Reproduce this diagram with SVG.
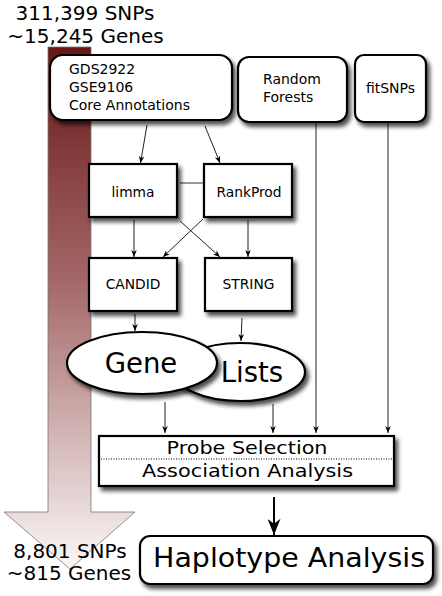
<svg xmlns="http://www.w3.org/2000/svg" width="442" height="596" viewBox="0 0 442 596">
<style>
text{font-family:"DejaVu Sans","Liberation Sans",sans-serif;fill:#000}
.box{fill:#fff;stroke:#000;stroke-width:2.2;filter:url(#sh)}
.conn{stroke:#222;stroke-width:1;fill:none;marker-end:url(#ah)}
.plain{stroke:#333;stroke-width:1;fill:none}
.t14{font-size:14px}
.t13{font-size:13.8px}
.big{font-size:20px}
</style>
<defs>
<linearGradient id="ag" x1="0" y1="47" x2="0" y2="569" gradientUnits="userSpaceOnUse">
<stop offset="0" stop-color="#681616"/>
<stop offset="0.45" stop-color="#a46868"/>
<stop offset="1" stop-color="#fbf8f8"/>
</linearGradient>
<filter id="sh" x="-20%" y="-20%" width="150%" height="160%">
<feGaussianBlur in="SourceAlpha" stdDeviation="2"/>
<feOffset dx="3" dy="4" result="b"/>
<feComponentTransfer><feFuncA type="linear" slope="0.7"/></feComponentTransfer>
<feMerge><feMergeNode/><feMergeNode in="SourceGraphic"/></feMerge>
</filter>
<marker id="ah" viewBox="0 0 10 8" refX="10" refY="4" markerWidth="7" markerHeight="6" orient="auto" markerUnits="userSpaceOnUse">
<path d="M0,0 L10,4 L0,8 L3,4 z" fill="#000"/>
</marker>
<marker id="ahb" viewBox="0 0 10 8" refX="10" refY="4" markerWidth="18" markerHeight="13" orient="auto" markerUnits="userSpaceOnUse">
<path d="M0,0 L10,4 L0,8 L3,4 z" fill="#000"/>
</marker>
</defs>

<g id="funnel">
<path d="M48,47 L91,47 L91,512 L135,512 L70,569 L4,512 L48,512 Z" fill="url(#ag)" stroke="#777" stroke-width="0.8"/>
</g>

<g id="connectors">
<line class="conn" x1="147" y1="125" x2="140.5" y2="163"/>
<line class="conn" x1="205" y1="126" x2="220" y2="163"/>
<line class="plain" x1="180" y1="183" x2="204" y2="183"/>
<line class="conn" x1="134" y1="220" x2="134" y2="257"/>
<line class="conn" x1="248" y1="220" x2="248" y2="257"/>
<line class="conn" x1="180" y1="221" x2="220" y2="257"/>
<line class="conn" x1="203" y1="219" x2="163" y2="257"/>
<line class="conn" x1="135" y1="314" x2="135" y2="331"/>
<line class="conn" x1="242" y1="318" x2="241" y2="341"/>
<line class="conn" x1="165" y1="402" x2="165" y2="433"/>
<line class="conn" x1="273" y1="404" x2="273" y2="433"/>
<line class="conn" x1="316" y1="123" x2="316" y2="433"/>
<line class="conn" x1="388" y1="123" x2="388" y2="433"/>
<line x1="274" y1="497" x2="274" y2="535" stroke="#000" stroke-width="2" marker-end="url(#ahb)"/>
</g>

<g id="gds">
<rect class="box" x="50" y="55" width="182" height="65" rx="13" stroke-width="2.6"/>
<text class="t14" x="69" y="74">GDS2922</text>
<text class="t14" x="69" y="92">GSE9106</text>
<text class="t14" x="69" y="110">Core Annotations</text>
</g>
<g id="random-forests">
<rect class="box" x="238" y="57" width="109" height="65" rx="11" stroke-width="2.4"/>
<text class="t14" x="263" y="84">Random</text>
<text class="t14" x="263" y="102">Forests</text>
</g>
<g id="fitsnps">
<rect class="box" x="355" y="55" width="71" height="67" rx="9" stroke-width="2.4"/>
<text class="t14" x="390.5" y="93" text-anchor="middle">fitSNPs</text>
</g>
<g id="limma">
<rect class="box" x="89" y="164" width="88" height="53"/>
<text class="t13" x="133" y="197" text-anchor="middle">limma</text>
</g>
<g id="rankprod">
<rect class="box" x="204" y="164" width="88" height="53"/>
<text class="t13" x="249" y="197" text-anchor="middle">RankProd</text>
</g>
<g id="candid">
<rect class="box" x="89" y="258" width="88" height="53"/>
<text class="t13" x="133" y="289" text-anchor="middle">CANDID</text>
</g>
<g id="string">
<rect class="box" x="205" y="258" width="87" height="53"/>
<text class="t13" x="248.5" y="289" text-anchor="middle">STRING</text>
</g>
<g id="lists">
<ellipse class="box" cx="240" cy="372" rx="65" ry="29" stroke-width="1.4"/>
<text x="252" y="382" font-size="27.5" text-anchor="middle">Lists</text>
</g>
<g id="gene">
<ellipse class="box" cx="142" cy="363" rx="75" ry="31" stroke-width="1.4"/>
<text x="141" y="373" font-size="27.5" text-anchor="middle">Gene</text>
</g>
<g id="probe">
<rect class="box" x="99" y="436" width="295" height="50" rx="0"/>
<line x1="101" y1="459" x2="392" y2="459" stroke="#000" stroke-width="1" stroke-dasharray="1,1.5"/>
<text x="247" y="454" font-size="17" text-anchor="middle" textLength="161" lengthAdjust="spacingAndGlyphs">Probe Selection</text>
<text x="247.5" y="477" font-size="17" text-anchor="middle" textLength="211" lengthAdjust="spacingAndGlyphs">Association Analysis</text>
</g>
<g id="haplotype">
<rect class="box" x="140" y="536" width="293" height="48" rx="10"/>
<text x="289" y="567" font-size="27" text-anchor="middle" textLength="272" lengthAdjust="spacingAndGlyphs">Haplotype Analysis</text>
</g>

<g id="labels">
<text class="big" x="85" y="20" text-anchor="middle">311,399 SNPs</text>
<text class="big" x="85.5" y="43" text-anchor="middle">~15,245 Genes</text>
<text class="big" x="70" y="558" text-anchor="middle">8,801 SNPs</text>
<text class="big" x="69" y="580" text-anchor="middle">~815 Genes</text>
</g>
</svg>
